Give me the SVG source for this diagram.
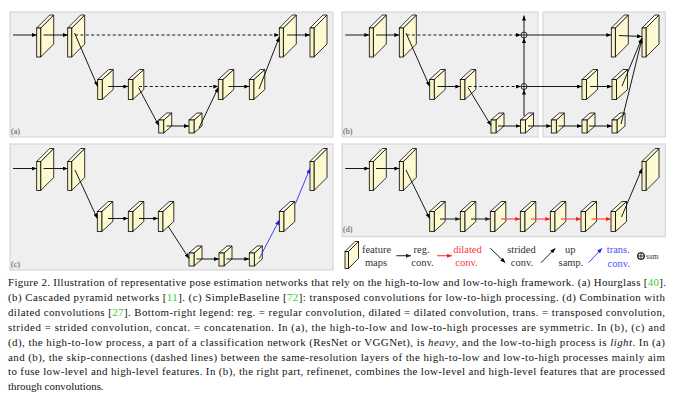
<svg xmlns="http://www.w3.org/2000/svg" xmlns:xlink="http://www.w3.org/1999/xlink" width="677" height="396" viewBox="0 0 677 396">
<style>
.panel{fill:#efefef;stroke:#d0d0d0;stroke-width:1}
.rf{fill:#fdf9d0;stroke:#000;stroke-width:0.8;stroke-linejoin:round}
.tf{fill:#fffef0;stroke:#000;stroke-width:0.8;stroke-linejoin:round}
.ff{fill:#f8f3c4;stroke:#000;stroke-width:0.8}
.c{stroke:#000;stroke-width:0.9;fill:none;marker-end:url(#mk)}
.d{stroke:#000;stroke-width:0.9;fill:none;stroke-dasharray:3,2.4;marker-end:url(#mk)}
.g{stroke:#333;stroke-width:1.1;fill:none;marker-end:url(#mg)}
.r{stroke:#ff4a4a;stroke-width:1.2;fill:none;marker-end:url(#mr)}
.b{stroke:#2a2aff;stroke-width:0.9;fill:none;marker-end:url(#mb)}
.sum{fill:#efefef;stroke:#000;stroke-width:0.8}
.plus{stroke:#000;stroke-width:0.8}
.lbl{font-family:"Liberation Serif","Times New Roman",serif;font-size:8px;fill:#4a4a5a}
.leg{font-family:"Liberation Serif","Times New Roman",serif;font-size:10.5px;fill:#333;text-anchor:middle}
.cap{font-family:"Liberation Serif","Times New Roman",serif;font-size:10.9px;fill:#111}
.cite{fill:#33cc33}
</style>
<defs>
<marker id="mk" viewBox="0 0 5 4" refX="5" refY="2" markerWidth="5" markerHeight="4" markerUnits="userSpaceOnUse" orient="auto"><path d="M0,0 L5,2 L0,4 z" fill="#000"/></marker>
<marker id="mg" viewBox="0 0 5 4" refX="5" refY="2" markerWidth="5" markerHeight="4" markerUnits="userSpaceOnUse" orient="auto"><path d="M0,0 L5,2 L0,4 z" fill="#222"/></marker>
<marker id="mr" viewBox="0 0 5 4" refX="5" refY="2" markerWidth="5" markerHeight="4" markerUnits="userSpaceOnUse" orient="auto"><path d="M0,0 L5,2 L0,4 z" fill="#ff1a1a"/></marker>
<marker id="mb" viewBox="0 0 5 4" refX="5" refY="2" markerWidth="5" markerHeight="4" markerUnits="userSpaceOnUse" orient="auto"><path d="M0,0 L5,2 L0,4 z" fill="#1a1aff"/></marker>
<g id="blkL"><polygon class="rf" points="4,0 17,-13 17,16 4,29"/><polygon class="tf" points="0,0 13,-13 17,-13 4,0"/><rect class="ff" x="0" y="0" width="4" height="29"/></g>
<g id="blkM"><polygon class="rf" points="4.5,0 15.5,-10 15.5,10 4.5,20"/><polygon class="tf" points="0,0 11,-10 15.5,-10 4.5,0"/><rect class="ff" x="0" y="0" width="4.5" height="20"/></g>
<g id="blkS"><polygon class="rf" points="5,0 13,-7 13,6 5,13"/><polygon class="tf" points="0,0 8,-7 13,-7 5,0"/><rect class="ff" x="0" y="0" width="5" height="13"/></g>
</defs>

<g id="panels">
<rect class="panel" x="10" y="12" width="323" height="125"/>
<rect class="panel" x="342" y="12" width="196" height="125"/>
<rect class="panel" x="543" y="12" width="122.3" height="125"/>
<rect class="panel" x="10" y="144" width="323" height="126"/>
<rect class="panel" x="342" y="144" width="323.3" height="92.7"/>
<text class="lbl" x="11" y="134">(a)</text>
<text class="lbl" x="343" y="134">(b)</text>
<text class="lbl" x="11" y="267">(c)</text>
<text class="lbl" x="343" y="232">(d)</text>
</g>

<!-- panel (a) nodes -->
<g id="a1"><use xlink:href="#blkL" x="36.7" y="28"/></g>
<g id="a2"><use xlink:href="#blkL" x="67.7" y="28"/></g>
<g id="a3"><use xlink:href="#blkM" x="97.7" y="79.5"/></g>
<g id="a4"><use xlink:href="#blkM" x="128.3" y="79.5"/></g>
<g id="a5"><use xlink:href="#blkS" x="158.7" y="120"/></g>
<g id="a6"><use xlink:href="#blkS" x="189" y="120"/></g>
<g id="a7"><use xlink:href="#blkM" x="218.3" y="79.5"/></g>
<g id="a8"><use xlink:href="#blkM" x="249.3" y="79.5"/></g>
<g id="a9"><use xlink:href="#blkL" x="279.3" y="28"/></g>
<g id="a10"><use xlink:href="#blkL" x="310" y="28"/></g>

<!-- panel (b) nodes -->
<g id="b1"><use xlink:href="#blkL" x="369.3" y="28"/></g>
<g id="b2"><use xlink:href="#blkL" x="399.3" y="28"/></g>
<g id="b3"><use xlink:href="#blkM" x="429.7" y="79.5"/></g>
<g id="b4"><use xlink:href="#blkM" x="460.3" y="79.5"/></g>
<g id="b5"><use xlink:href="#blkS" x="491" y="120"/></g>
<g id="b6"><use xlink:href="#blkS" x="520.5" y="120"/></g>
<g id="b7"><use xlink:href="#blkS" x="551.3" y="120"/></g>
<g id="b8"><use xlink:href="#blkS" x="582" y="120"/></g>
<g id="b9"><use xlink:href="#blkS" x="612" y="120"/></g>
<g id="b10"><use xlink:href="#blkM" x="582" y="79.5"/></g>
<g id="b11"><use xlink:href="#blkM" x="612" y="79.5"/></g>
<g id="b12"><use xlink:href="#blkL" x="611.3" y="28"/></g>
<g id="b13"><use xlink:href="#blkL" x="642" y="28"/></g>
<g id="sum1"><circle class="sum" cx="524" cy="35" r="3"/><line class="plus" x1="521" y1="35" x2="527" y2="35"/><line class="plus" x1="524" y1="32" x2="524" y2="38"/></g>
<g id="sum2"><circle class="sum" cx="524" cy="86.5" r="3"/><line class="plus" x1="521" y1="86.5" x2="527" y2="86.5"/><line class="plus" x1="524" y1="83.5" x2="524" y2="89.5"/></g>

<!-- panel (c) nodes -->
<g id="c1"><use xlink:href="#blkL" x="36.7" y="161.5"/></g>
<g id="c2"><use xlink:href="#blkL" x="67.7" y="161.5"/></g>
<g id="c3"><use xlink:href="#blkM" x="97.3" y="211.5"/></g>
<g id="c4"><use xlink:href="#blkM" x="128.3" y="211.5"/></g>
<g id="c5"><use xlink:href="#blkM" x="158.3" y="211.5"/></g>
<g id="c6"><use xlink:href="#blkS" x="189" y="253"/></g>
<g id="c7"><use xlink:href="#blkS" x="219" y="253"/></g>
<g id="c8"><use xlink:href="#blkS" x="249.3" y="253"/></g>
<g id="c9"><use xlink:href="#blkM" x="279.3" y="211.5"/></g>
<g id="c10"><use xlink:href="#blkL" x="310" y="161.5"/></g>

<!-- panel (d) nodes -->
<g id="d1"><use xlink:href="#blkL" x="369.3" y="161.5"/></g>
<g id="d2"><use xlink:href="#blkL" x="399.3" y="161.5"/></g>
<g id="d3"><use xlink:href="#blkM" x="429.7" y="211.5"/></g>
<g id="d4"><use xlink:href="#blkM" x="460.3" y="211.5"/></g>
<g id="d5"><use xlink:href="#blkM" x="490.3" y="211.5"/></g>
<g id="d6"><use xlink:href="#blkM" x="520.3" y="211.5"/></g>
<g id="d7"><use xlink:href="#blkM" x="550.3" y="211.5"/></g>
<g id="d8"><use xlink:href="#blkM" x="581" y="211.5"/></g>
<g id="d9"><use xlink:href="#blkM" x="611" y="211.5"/></g>
<g id="d10"><use xlink:href="#blkL" x="642" y="161.5"/></g>

<g id="connectors">
<!-- (a) -->
<line class="c" x1="13" y1="35" x2="36.7" y2="35"/>
<line class="c" x1="43.5" y1="35" x2="67.7" y2="35"/>
<line class="d" x1="75" y1="35" x2="279.3" y2="35"/>
<line class="c" x1="74.5" y1="33" x2="97.7" y2="86.5"/>
<line class="c" x1="108" y1="86.5" x2="128.3" y2="86.5"/>
<line class="d" x1="139" y1="86.5" x2="218.3" y2="86.5"/>
<line class="c" x1="138.5" y1="87.5" x2="158.7" y2="125.5"/>
<line class="c" x1="166.5" y1="126" x2="189" y2="126"/>
<line class="c" x1="199" y1="128" x2="218.3" y2="87.5"/>
<line class="c" x1="228.5" y1="86.5" x2="249.3" y2="86.5"/>
<line class="c" x1="259" y1="89" x2="279.3" y2="37"/>
<line class="c" x1="287" y1="35" x2="310" y2="35"/>
<!-- (b) -->
<line class="c" x1="345.3" y1="35" x2="369.3" y2="35"/>
<line class="c" x1="376" y1="35" x2="399.3" y2="35"/>
<line class="d" x1="406.5" y1="35" x2="521" y2="35"/>
<line class="c" x1="406" y1="33" x2="429.7" y2="86.5"/>
<line class="c" x1="437.5" y1="86.5" x2="460.3" y2="86.5"/>
<line class="d" x1="468.5" y1="86.5" x2="521" y2="86.5"/>
<line class="c" x1="468" y1="87.5" x2="491" y2="125.5"/>
<line class="c" x1="498" y1="126" x2="520.5" y2="126"/>
<line class="c" x1="528" y1="126" x2="551.3" y2="126"/>
<line class="c" x1="558.5" y1="126" x2="582" y2="126"/>
<line class="c" x1="589" y1="126" x2="612" y2="126"/>
<line class="c" x1="524" y1="116" x2="524" y2="89.5"/>
<line class="c" x1="524" y1="83.5" x2="524" y2="38"/>
<line class="c" x1="524" y1="32" x2="524" y2="15.5"/>
<line class="c" x1="527" y1="35" x2="611.3" y2="35"/>
<line class="c" x1="527" y1="86.5" x2="582" y2="86.5"/>
<line class="c" x1="590" y1="86.5" x2="612" y2="86.5"/>
<line class="c" x1="619" y1="35.5" x2="642" y2="36.5"/>
<line class="c" x1="622" y1="86" x2="642" y2="38"/>
<line class="c" x1="621" y1="124" x2="642" y2="38.5"/>
<!-- (c) -->
<line class="c" x1="13" y1="168.5" x2="36.7" y2="168.5"/>
<line class="c" x1="43.5" y1="168.5" x2="67.7" y2="168.5"/>
<line class="c" x1="75" y1="170" x2="97.3" y2="218.5"/>
<line class="c" x1="108" y1="218.5" x2="128.3" y2="218.5"/>
<line class="c" x1="139" y1="218.5" x2="158.3" y2="218.5"/>
<line class="c" x1="168" y1="226" x2="189" y2="258.5"/>
<line class="c" x1="196.5" y1="259" x2="219" y2="259"/>
<line class="c" x1="226.5" y1="259" x2="249.3" y2="259"/>
<line class="b" x1="259" y1="259" x2="279.3" y2="220"/>
<line class="b" x1="295.5" y1="203.5" x2="310" y2="168.5"/>
<!-- (d) -->
<line class="c" x1="345.3" y1="168.5" x2="369.3" y2="168.5"/>
<line class="c" x1="376" y1="168.5" x2="399.3" y2="168.5"/>
<line class="c" x1="406" y1="170" x2="429.7" y2="218.5"/>
<line class="g" x1="440" y1="219" x2="460.3" y2="219"/>
<line class="g" x1="471" y1="219" x2="490.3" y2="219"/>
<line class="r" x1="501" y1="219" x2="520.3" y2="219"/>
<line class="r" x1="531" y1="219" x2="550.3" y2="219"/>
<line class="r" x1="561" y1="219" x2="581" y2="219"/>
<line class="r" x1="591.5" y1="219" x2="611" y2="219"/>
<line class="c" x1="621.5" y1="217" x2="642" y2="168.5"/>
</g>

<g id="legend">
<g id="leg-fmap"><polygon class="rf" points="348.5,251.5 358.5,241.5 358.5,258.5 348.5,268.5"/><polygon class="tf" points="345,251.5 355,241.5 358.5,241.5 348.5,251.5"/><rect class="ff" x="345" y="251.5" width="3.5" height="17"/></g>
<text class="leg" x="376.5" y="253">feature</text>
<text class="leg" x="376" y="265.5">maps</text>
<line class="g" x1="396.3" y1="255.7" x2="411" y2="255.7"/>
<text class="leg" x="421.5" y="253">reg.</text>
<text class="leg" x="422.5" y="265.5">conv.</text>
<line class="r" x1="437" y1="255.7" x2="452" y2="255.7"/>
<text class="leg" x="467.5" y="253" fill="#ff3344" style="fill:#ff3344">dilated</text>
<text class="leg" x="466.5" y="265.5" style="fill:#ff3344">conv.</text>
<line class="c" x1="490.3" y1="248.3" x2="505.3" y2="262.7"/>
<text class="leg" x="521.5" y="253">strided</text>
<text class="leg" x="522" y="265.5">conv.</text>
<line class="c" x1="541" y1="262.7" x2="555.3" y2="248.3"/>
<text class="leg" x="570.3" y="253">up</text>
<text class="leg" x="571" y="265.5">samp.</text>
<line class="b" x1="588.7" y1="262.7" x2="602" y2="248.3"/>
<text class="leg" x="618.3" y="253" style="fill:#4a4aff">trans.</text>
<text class="leg" x="618.7" y="266.5" style="fill:#4a4aff">conv.</text>
<g id="leg-sum"><circle cx="641" cy="256" r="3.3" fill="none" stroke="#000" stroke-width="1.1"/><line class="plus" x1="637.7" y1="256" x2="644.3" y2="256" stroke-width="1.1"/><line class="plus" x1="641" y1="252.7" x2="641" y2="259.3" stroke-width="1.1"/></g>
<text x="646" y="258.5" style="font-family:'Liberation Serif',serif;font-size:7.5px;fill:#333">sum</text>
</g>

<g id="caption">
<text class="cap" x="8" y="286" textLength="658" lengthAdjust="spacing">Figure 2. Illustration of representative pose estimation networks that rely on the high-to-low and low-to-high framework. (a) Hourglass [<tspan class="cite">40</tspan>].</text>
<text class="cap" x="8" y="300.9" textLength="657" lengthAdjust="spacing">(b) Cascaded pyramid networks [<tspan class="cite">11</tspan>]. (c) SimpleBaseline [<tspan class="cite">72</tspan>]: transposed convolutions for low-to-high processing. (d) Combination with</text>
<text class="cap" x="8" y="315.8" textLength="657" lengthAdjust="spacing">dilated convolutions [<tspan class="cite">27</tspan>]. Bottom-right legend: reg. = regular convolution, dilated = dilated convolution, trans. = transposed convolution,</text>
<text class="cap" x="8" y="330.7" textLength="657" lengthAdjust="spacing">strided = strided convolution, concat. = concatenation. In (a), the high-to-low and low-to-high processes are symmetric. In (b), (c) and</text>
<text class="cap" x="8" y="345.6" textLength="657" lengthAdjust="spacing">(d), the high-to-low process, a part of a classification network (ResNet or VGGNet), is <tspan font-style="italic">heavy</tspan>, and the low-to-high process is <tspan font-style="italic">light</tspan>. In (a)</text>
<text class="cap" x="8" y="360.5" textLength="657" lengthAdjust="spacing">and (b), the skip-connections (dashed lines) between the same-resolution layers of the high-to-low and low-to-high processes mainly aim</text>
<text class="cap" x="8" y="375.4" textLength="657" lengthAdjust="spacing">to fuse low-level and high-level features. In (b), the right part, refinenet, combines the low-level and high-level features that are processed</text>
<text class="cap" x="8" y="390.3">through convolutions.</text>
</g>
</svg>
